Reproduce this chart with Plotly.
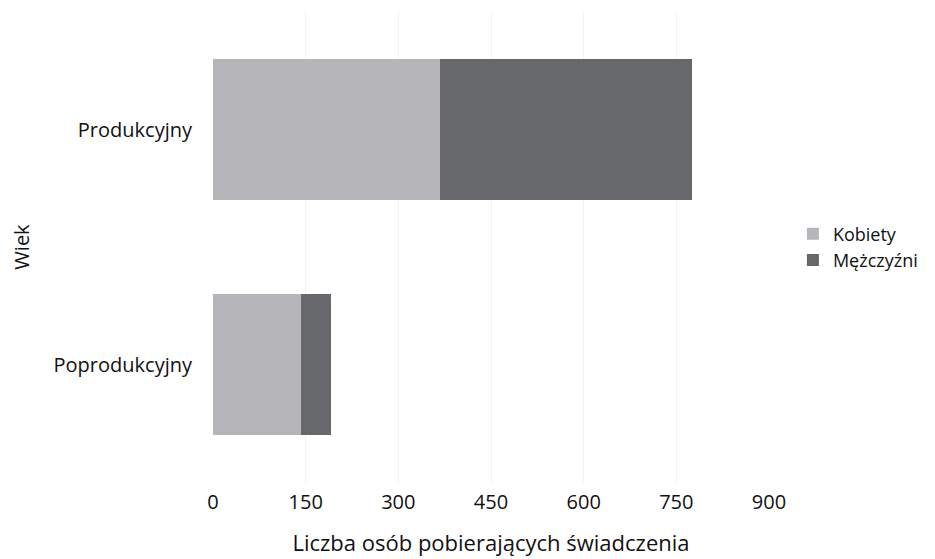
import plotly.graph_objects as go

categories = ["Poprodukcyjny", "Produkcyjny"]
kobiety = [142, 368]
mezczyzni = [49, 408]
x_ticks = [0, 150, 300, 450, 600, 750, 900]

fig = go.Figure()
fig.add_trace(go.Bar(y=categories, x=kobiety, name="Kobiety", orientation="h",
                     marker=dict(color="#b6b6ba", line=dict(width=0))))
fig.add_trace(go.Bar(y=categories, x=mezczyzni, name="Mężczyźni", orientation="h",
                     marker=dict(color="#66686c", line=dict(width=0))))

fig.update_layout(
    barmode="stack",
    bargap=0.4,
    width=935, height=559,
    margin=dict(l=205, r=174, t=4, b=85),
    plot_bgcolor="white", paper_bgcolor="white",
    font=dict(family="Open Sans", size=20, color="#111111"),
    legend=dict(x=1.043, y=0.5, yanchor="middle", xanchor="left",
                font=dict(size=18), traceorder="normal", tracegroupgap=0),
    xaxis=dict(range=[0, 900], tickvals=x_ticks, showgrid=True,
               gridcolor="#f2f2f2", gridwidth=1, zeroline=False,
               showline=False, ticks="", ticklabelstandoff=6,
               tickfont=dict(size=20),
               title=dict(text="Liczba osób pobierających świadczenia",
                          font=dict(size=22), standoff=21)),
    yaxis=dict(showgrid=False, zeroline=False, showline=False, ticks="",
               ticklabelstandoff=20, tickfont=dict(size=20),
               title=dict(text="Wiek", font=dict(size=20), standoff=18)),
)
fig.write_html("out.html")
